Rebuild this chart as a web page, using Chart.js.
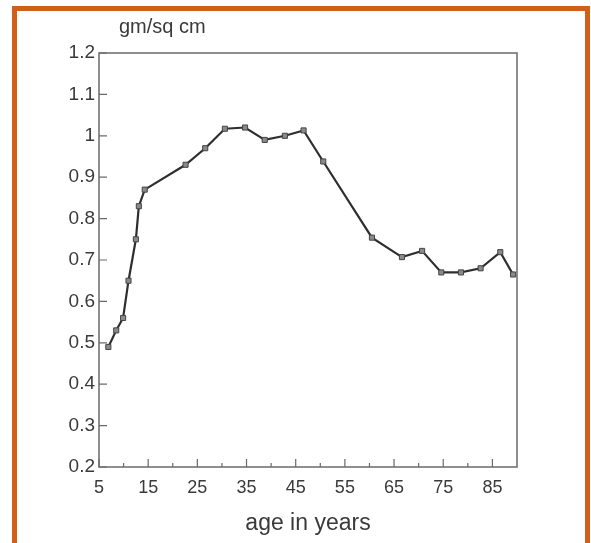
<!DOCTYPE html>
<html>
<head>
<meta charset="utf-8">
<script src="https://cdn.jsdelivr.net/npm/chart.js@4/dist/chart.umd.min.js"></script>
<style>
  html, body { margin: 0; padding: 0; background: #fff; }
  #wrap { position: relative; width: 591px; height: 543px; overflow: hidden; }
  #frame { position: absolute; left: 12px; top: 6px; width: 568px; height: 600px;
           border: 5px solid #cf5f1b; border-bottom: none; }
  canvas { position: absolute; left: 0; top: 0; }
</style>
</head>
<body>
<div id="wrap">
  <div id="frame"></div>
  <canvas id="c" width="591" height="543"></canvas>
</div>
<script>
// ---- data ----
const ages = [6.9, 8.5, 9.9, 11.0, 12.5, 13.1, 14.3, 22.6, 26.6, 30.6, 34.7, 38.7, 42.8, 46.6, 50.6, 60.5, 66.6, 70.7, 74.6, 78.6, 82.6, 86.6, 89.2];
const density = [0.49, 0.53, 0.56, 0.65, 0.75, 0.83, 0.87, 0.93, 0.97, 1.017, 1.02, 0.99, 1.0, 1.013, 0.938, 0.754, 0.707, 0.722, 0.67, 0.67, 0.68, 0.719, 0.665];
const xMajorTicks = [5, 15, 25, 35, 45, 55, 65, 75, 85];
const xMinorTicks = [10, 20, 30, 40, 50, 60, 70, 80, 90];
const yTicks = [0.2, 0.3, 0.4, 0.5, 0.6, 0.7, 0.8, 0.9, 1, 1.1, 1.2];
const xTitle = 'age in years';
const yTitle = 'gm/sq cm';

const FONT = "'Liberation Sans', Arial, Helvetica, sans-serif";
const TEXT = '#3a3a3a';
const AXIS = '#6a6a6a';

const frameTicks = {
  id: 'frameTicks',
  afterDraw(chart) {
    const ctx = chart.ctx, a = chart.chartArea;
    const xs = chart.scales.x, ys = chart.scales.y;
    ctx.save();
    ctx.strokeStyle = AXIS;
    ctx.lineWidth = 1.5;
    ctx.strokeRect(a.left, a.top, a.right - a.left, a.bottom - a.top);
    ctx.lineWidth = 1.2;
    ctx.beginPath();
    xMajorTicks.forEach(v => { const p = xs.getPixelForValue(v); ctx.moveTo(p, a.bottom); ctx.lineTo(p, a.bottom - 8); });
    xMinorTicks.forEach(v => { const p = xs.getPixelForValue(v); if (p < a.right - 1) { ctx.moveTo(p, a.bottom); ctx.lineTo(p, a.bottom - 4); } });
    yTicks.forEach(v => { const p = ys.getPixelForValue(v); ctx.moveTo(a.left, p); ctx.lineTo(a.left + 8, p); });
    ctx.stroke();
    ctx.fillStyle = TEXT;
    ctx.font = "20px " + FONT;
    ctx.textAlign = 'left';
    ctx.textBaseline = 'middle';
    ctx.fillText(yTitle, 119, 27);
    ctx.restore();
  }
};

new Chart(document.getElementById('c'), {
  type: 'line',
  data: {
    datasets: [{
      data: ages.map((x, i) => ({ x: x, y: density[i] })),
      borderColor: '#2e2e2e',
      borderWidth: 2.2,
      pointStyle: 'rect',
      pointRadius: 3.6,
      pointBackgroundColor: '#8a8a8a',
      pointBorderColor: '#444',
      pointBorderWidth: 1,
      tension: 0,
      fill: false
    }]
  },
  options: {
    responsive: false,
    animation: false,
    layout: { padding: { left: 0, right: 74, top: 53, bottom: 0 } },
    plugins: { legend: { display: false }, tooltip: { enabled: false }, title: { display: false } },
    scales: {
      x: {
        type: 'linear', min: 5, max: 90,
        afterBuildTicks: s => { s.ticks = xMajorTicks.map(v => ({ value: v })); },
        afterFit: s => { s.height = 76; },
        grid: { display: false, drawTicks: false },
        border: { display: false },
        ticks: { color: TEXT, font: { size: 18, family: FONT }, padding: 10, maxRotation: 0, autoSkip: false },
        title: { display: true, text: xTitle, color: TEXT, font: { size: 23, family: FONT }, padding: { top: 0, bottom: 6 } }
      },
      y: {
        type: 'linear', min: 0.2, max: 1.2,
        afterBuildTicks: s => { s.ticks = yTicks.map(v => ({ value: v })); },
        afterFit: s => { s.width = 99; },
        grid: { display: false, drawTicks: false },
        border: { display: false },
        ticks: { color: TEXT, font: { size: 19, family: FONT }, padding: 4,
                 callback: v => String(Math.round(v * 10) / 10) }
      }
    }
  },
  plugins: [frameTicks]
});
</script>
</body>
</html>
